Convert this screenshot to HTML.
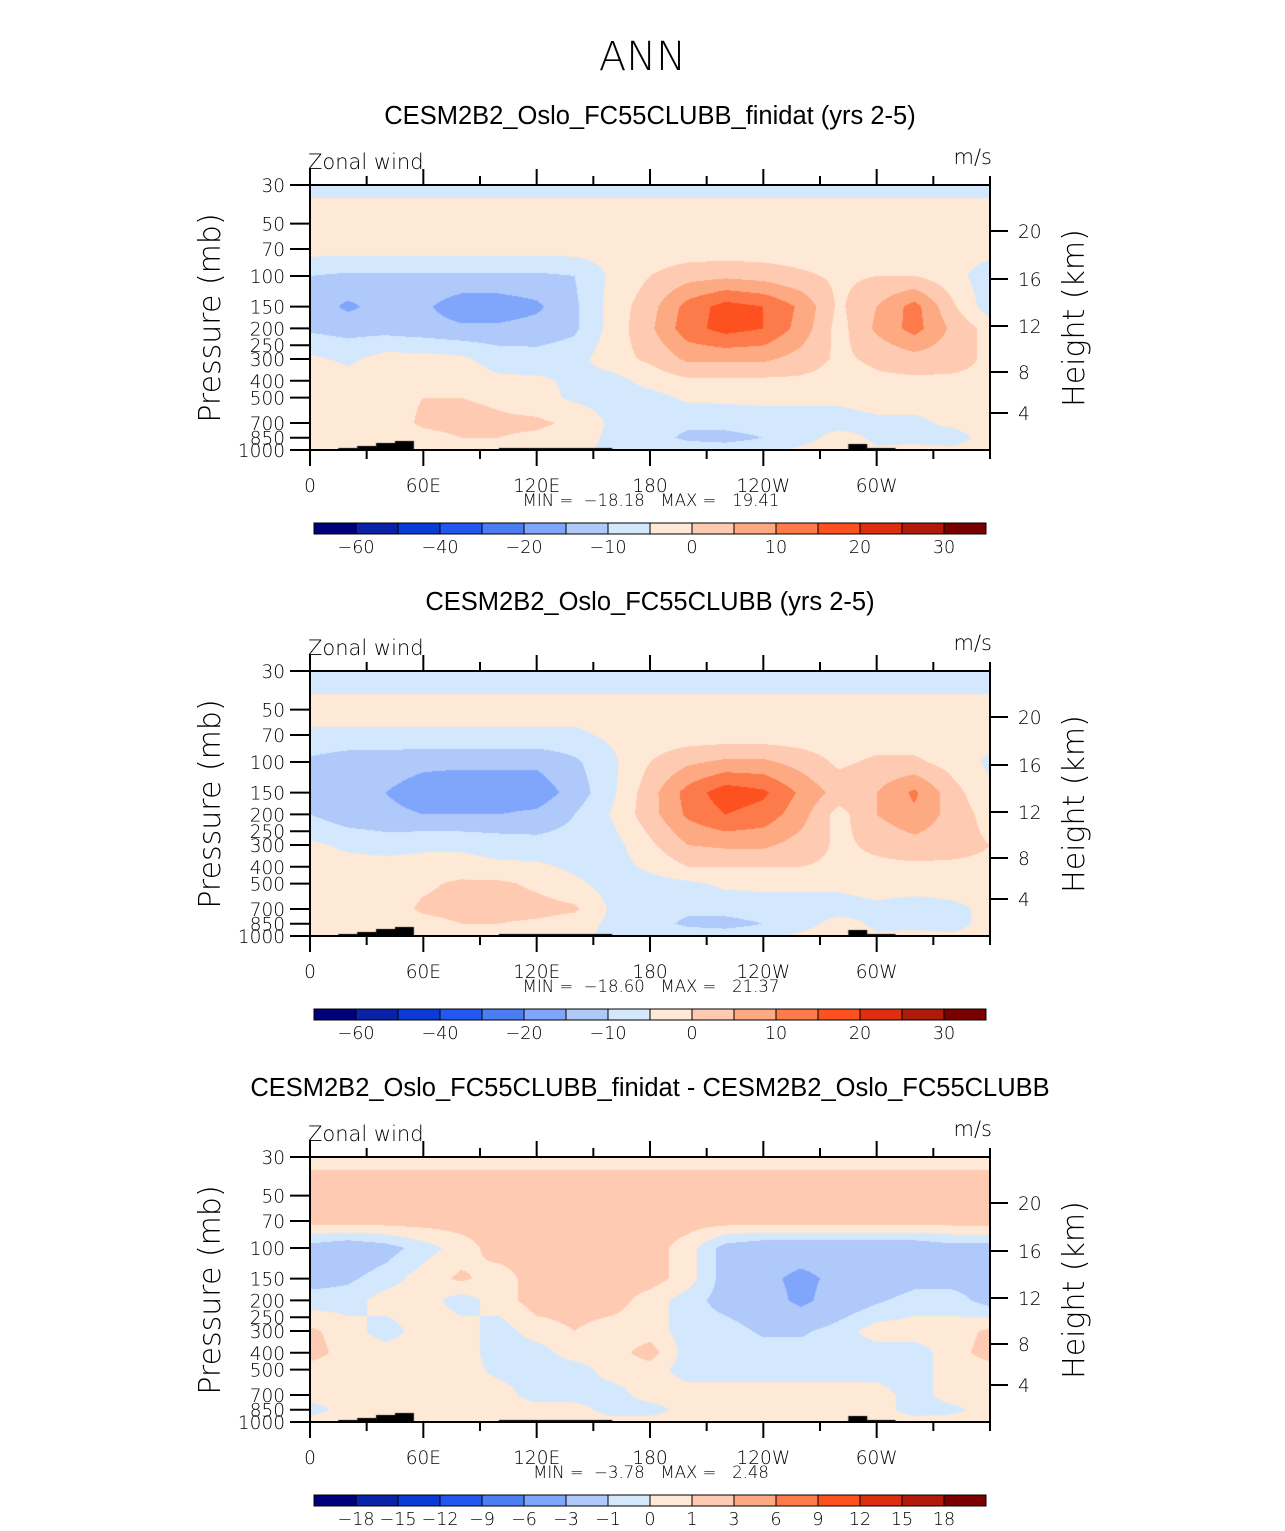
<!DOCTYPE html>
<html><head><meta charset="utf-8">
<style>
body{margin:0;background:#fff;width:1285px;height:1531px;overflow:hidden;position:relative;font-family:"Liberation Sans",sans-serif;}
.t{position:absolute;white-space:nowrap;color:#000;}
canvas{position:absolute;}
svg{position:absolute;left:0;top:0;}
text{white-space:pre;}
</style></head>
<body>
<div class="t" style="left:0;width:1285px;text-align:center;top:34px;font-size:40px;font-family:'DejaVu Sans',sans-serif;font-weight:200;">ANN</div>
<canvas id="c0" width="680" height="265" style="left:310px;top:185px"></canvas>
<canvas id="c1" width="680" height="265" style="left:310px;top:671px"></canvas>
<canvas id="c2" width="680" height="265" style="left:310px;top:1157px"></canvas>
<svg id="ov" width="1285" height="1531"></svg>
<script>
const lons=[0,20,40,60,80,100,120,140,160,180,200,220,240,260,280,300,320,340,360];
const levels=[30,50,70,100,150,200,300,400,500,700,850,1000];
const panel1=[
[-1,-1,-1,-1,-1,-1,-1,-1,-1,-1,-1,-1,-1,-1,-1,-1,-1,-1,-1],
[2,2,2,2,2,2,2,2,2,2,2,2,2,2,2,2,2,2,2],
[2,2,2,2,2,2,2,2,2,2,2,2,2,2,2,2,2,2,2],
[-5,-6,-6,-6,-6,-6,-6,-5,1,5,8,9,8,6,4,5,5,2,-3],
[-7,-11,-8,-9,-13,-13,-11,-6,2,8,17,22,20,14,4,10,17,6,-3],
[-6,-7,-7,-8,-9,-9,-8,-6,2,9,18,22,20,13,3,11,17,9,3],
[1,-1,2,2,1,-2,-3,-2,3,6,11,11,11,8,4,6,8,7,4],
[5,2,2,2,2,1,1,-1,-2,2,4,4,4,4,3,4,4,4,4],
[3,1,3,5,5,4,2,-1,-2,-2,1,1,1,1,1,2,2,2,3],
[1,1,2,6,7,6,6,4,-1,-3,-4,-3,-2,-2,-2,-1,-1,1,2],
[1,4,1,3,5,5,4,2,-1,-3,-6,-7,-5,-2,2,-1,-1,-2,2],
[2,3,1,0.5,0.5,0.5,1,1,-1,-2,-2,-2,-1,1,3,0.5,1,1,2]];
const panel2=[
[-3,-3,-3,-3,-3,-3,-3,-3,-3,-3,-3,-3,-3,-3,-3,-3,-3,-3,-3],
[2,2,2,2,2,2,2,2,2,2,2,2,2,2,2,2,2,2,2],
[-1,-1,-1,-1,-1,-1,-1,-1,1,2,2,2,2,2,2,2,2,2,2],
[-6,-8,-8,-9,-9,-9,-9,-6,-1,5,9,11,11,8,4,6,6,3,-1],
[-7,-8,-10,-12,-13,-13,-13,-8,-1,8,17,23,21,14,8,10,16,7,1],
[-5,-8,-9,-10,-10,-10,-9,-5,0.5,8,16,20,18,12,3,10,14,8,3],
[1,-1,-2,-1,-1,-2,-3,-3,-2,4,10,11,11,8,4,6,8,7,5],
[2,2,2,2,2,1,1,-1,-2,1,5,5,5,5,4,4,4,4,4],
[2,2,2,4,6,6,4,1,-2,-2,-1,1,1,1,1,2,2,2,2],
[1,1,2,6,7,7,7,6,-1,-3,-4,-3,-2,-2,-2,-1,-2,-1,1],
[1,4,1,3,5,5,4,2,-1,-3,-6,-7,-5,-2,2,-1,-1,-2,2],
[2,3,1,0.5,0.5,0.5,1,1,-1,-2,-2,-2,-1,1,3,0.5,1,1,2]];
const panel3=[
[0.5,0.5,0.5,0.5,0.5,0.5,0.5,0.5,0.5,0.5,0.5,0.5,0.5,0.5,0.5,0.5,0.5,0.5,0.5],
[2,2,2,2,2,2,2,2,2,2,2,2,2,2,2,2,2,2,2],
[1.5,1.5,1.5,1.5,1.5,1.5,1.5,2,2,1.5,1.5,1.5,1.5,1.5,1.5,1.5,1.5,1.5,1.5],
[-1.5,-2,-1.5,-0.5,0.5,1.5,1.5,1.5,1.5,1.5,0.5,-1.5,-2,-2,-2,-2,-2,-1.5,-1.5],
[-1.5,-1.2,-0.5,0.5,1.2,0.5,1.5,1.5,1.5,1.5,0.5,-1.5,-2.5,-3.5,-2.5,-2,-1.5,-1.5,-1.5],
[-0.5,-0.5,0.5,0.5,-0.5,0.5,1.5,1.5,1.5,0.5,-0.5,-1.5,-2,-3.5,-2,-1.2,-0.5,-0.5,-1.5],
[1.2,0.5,-0.5,0.5,0.5,-0.5,0.5,1,0.5,0.5,-0.5,-0.5,-1.2,-1.2,-0.5,0.5,0.5,0.5,1.2],
[1.5,0.5,0.5,0.5,0.5,-0.5,-0.5,0.5,0.5,1.5,-0.5,-0.5,-0.5,-0.5,-0.5,-0.5,-0.5,0.5,1.5],
[0.5,0.5,0.5,0.5,0.5,-0.3,-0.5,-0.5,0.5,0.5,-0.5,-0.5,-0.5,-0.5,-0.5,-0.5,-0.5,0.5,0.5],
[0.5,0.5,0.5,0.5,0.5,0.5,-0.5,-0.5,-0.5,0.5,0.5,0.5,0.5,0.5,0.5,0.5,-0.5,0.5,0.5],
[-0.5,0.5,0.5,0.5,0.5,0.5,0.5,0.5,-0.5,-0.5,0.5,0.5,0.5,0.5,0.5,0.5,-0.5,-0.3,0.5],
[0.5,0.5,0.5,0.5,0.5,0.5,0.5,0.5,0.5,0.5,0.5,0.5,0.5,0.5,0.5,0.5,0.5,0.5,0.5]];
const bounds12=[-65,-55,-45,-35,-25,-15,-10,-5,0,5,10,15,20,25,30];
const bounds12fill=[-60,-50,-40,-30,-20,-15,-10,-5,0,5,10,15,20,25,30];
const bounds3=[-18,-15,-12,-9,-6,-3,-1,0,1,3,6,9,12,15,18];
const cbLabels12=["−60","","−40","","−20","","−10","","0","","10","","20","","30"];
const cbLabels3=["−18","−15","−12","−9","−6","−3","−1","0","1","3","6","9","12","15","18"];
const palette=["#00007a","#0a22a8","#0a3bd6","#2258f0","#4a7ef2","#80a6fb","#b0c9fb","#d3e8fd","#fee9d7","#fecbb2","#fda982","#fd7a4a","#fd5220","#dd2e10","#b01a0a","#7a0000"];
const topoX=[[15,25,2],[25,35,4],[35,45,7],[45,55,9],[100,160,2],[285,295,6],[295,310,2]];
const xTicks=[0,60,120,180,240,300];
const xTickLabels=["0","60E","120E","180","120W","60W"];
const pTicks=[30,50,70,100,150,200,250,300,400,500,700,850,1000];
const hTicks=[20,16,12,8,4];
const hTickY=[231,279,326,372,413];
const minmax=[["−18.18","19.41"],["−18.60","21.37"],["−3.78","2.48"]];
const titles=["CESM2B2_Oslo_FC55CLUBB_finidat (yrs 2-5)","CESM2B2_Oslo_FC55CLUBB (yrs 2-5)","CESM2B2_Oslo_FC55CLUBB_finidat - CESM2B2_Oslo_FC55CLUBB"];

const PX=310,PW=680,PH=265;
function xS(lon){return lon/360*PW;}
function yS(p){return Math.log(p/30)/Math.log(1000/30)*PH;}
function hex(c){return [parseInt(c.substr(1,2),16),parseInt(c.substr(3,2),16),parseInt(c.substr(5,2),16)];}
const pal=palette.map(hex);
function drawField(id,data,b,off){
  const cv=document.getElementById(id),ctx=cv.getContext('2d');
  const img=ctx.createImageData(PW,PH);
  const ly=levels.map(yS),lx=lons.map(xS);
  for(let y=0;y<PH;y++){
    let j=0;while(j<levels.length-2&&ly[j+1]<y+0.5)j++;
    const fy=Math.min(1,Math.max(0,(y+0.5-ly[j])/(ly[j+1]-ly[j])));
    for(let x=0;x<PW;x++){
      let i=0;while(i<lons.length-2&&lx[i+1]<x+0.5)i++;
      const fx=(x+0.5-lx[i])/(lx[i+1]-lx[i]);
      const v=(data[j][i]*(1-fx)+data[j][i+1]*fx)*(1-fy)+(data[j+1][i]*(1-fx)+data[j+1][i+1]*fx)*fy;
      let k=0;while(k<b.length&&v>=b[k])k++;
      k=Math.max(0,Math.min(15,k+off));
      const c=pal[k],o=(y*PW+x)*4;
      img.data[o]=c[0];img.data[o+1]=c[1];img.data[o+2]=c[2];img.data[o+3]=255;
    }
  }
  ctx.putImageData(img,0,0);
  ctx.fillStyle='#000';
  topoX.forEach(t=>{ctx.fillRect(xS(t[0]),PH-t[2],xS(t[1])-xS(t[0]),t[2]);});
}
drawField('c0',panel1,bounds12fill,-1);
drawField('c1',panel2,bounds12fill,-1);
drawField('c2',panel3,bounds3,0);

const NS='http://www.w3.org/2000/svg';
const ov=document.getElementById('ov');
const FT='DejaVu Sans';
function el(tag,attrs,txt){const e=document.createElementNS(NS,tag);for(const k in attrs)e.setAttribute(k,attrs[k]);if(txt!==undefined)e.textContent=txt;ov.appendChild(e);return e;}
const tops=[185,671,1157];
tops.forEach((T,pi)=>{
  let e;
  e=el('text',{x:650,y:T-61,'text-anchor':'middle','font-size':25.5,'font-family':'Liberation Sans'},titles[pi]);
  
  
  e=el('text',{x:308,y:T-16,'font-size':21,'font-family':FT,'font-weight':'200'},'Zonal wind');
  
  
  e=el('text',{x:992,y:T-21,'text-anchor':'end','font-size':21,'font-family':FT,'font-weight':'200'},'m/s');
  
  
  e=el('rect',{x:PX,y:T,width:PW,height:PH,fill:'none',stroke:'#000','stroke-width':2});
  
  
  for(let lon=0;lon<=360;lon+=30){
    const x=PX+xS(lon),maj=lon%60===0&&lon<360;
    el('line',{x1:x,x2:x,y1:T,y2:T-(maj?16:9),stroke:'#000','stroke-width':2});
    el('line',{x1:x,x2:x,y1:T+PH,y2:T+PH+(maj?16:9),stroke:'#000','stroke-width':2});
  }
  xTicks.forEach((lon,i)=>{
    e=el('text',{x:PX+xS(lon),y:T+PH+42,'text-anchor':'middle','font-size':18.5,'font-family':FT,'font-weight':'200'},xTickLabels[i]);
    
    
  });
  pTicks.forEach(p=>{
    const y=T+yS(p);
    el('line',{x1:PX-20,x2:PX,y1:y,y2:y,stroke:'#000','stroke-width':2});
    e=el('text',{x:PX-25,y:y+7,'text-anchor':'end','font-size':18.5,'font-family':FT,'font-weight':'200'},String(p));
    
    
  });
  hTicks.forEach((h,i)=>{
    const y=T+hTickY[i]-185;
    el('line',{x1:PX+PW,x2:PX+PW+18,y1:y,y2:y,stroke:'#000','stroke-width':2});
    e=el('text',{x:PX+PW+28,y:y+7,'font-size':18.5,'font-family':FT,'font-weight':'200'},String(h));
    
    
  });
  e=el('text',{transform:`translate(220,${T+133}) rotate(-90)`,'text-anchor':'middle','font-size':30,'font-family':FT,'font-weight':'200'},'Pressure (mb)');
  
  
  e=el('text',{transform:`translate(1084,${T+133}) rotate(-90)`,'text-anchor':'middle','font-size':30,'font-family':FT,'font-weight':'200'},'Height (km)');
  
  
  e=el('text',{x:651,y:T+321,'text-anchor':'middle','font-size':16.5,'font-family':FT,'font-weight':'200'},`MIN =  ${minmax[pi][0]}   MAX =   ${minmax[pi][1]}`);
  
  
  const cy=T+338;
  for(let k=0;k<16;k++){
    e=el('rect',{x:314+k*42,y:cy,width:42,height:11,fill:palette[k],stroke:'#000','stroke-width':1});
    
    
  }
  const labs=pi<2?cbLabels12:cbLabels3;
  labs.forEach((l,k)=>{
    if(!l)return;
    e=el('text',{x:314+(k+1)*42,y:cy+30,'text-anchor':'middle','font-size':17.5,'font-family':FT,'font-weight':'200'},l);
    
    
  });
});
</script>
</body></html>
